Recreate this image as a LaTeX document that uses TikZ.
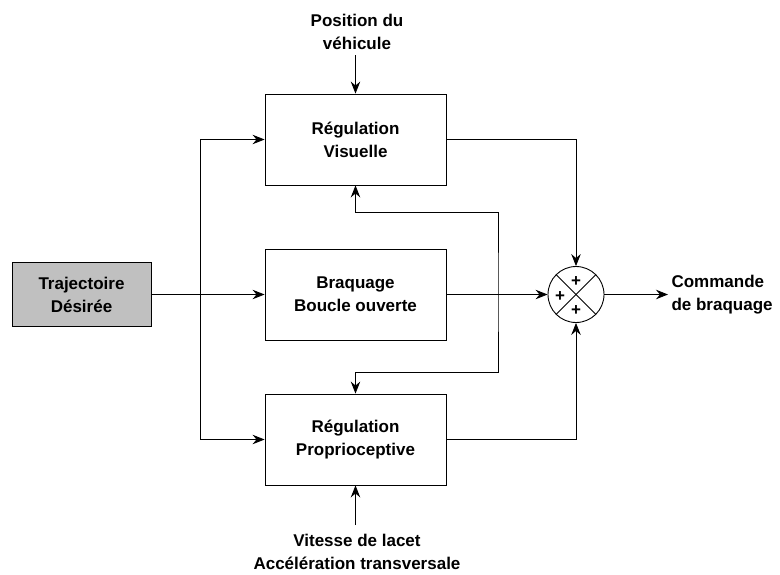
\documentclass[tikz,border=0pt]{standalone}
\usepackage{fontspec}
\setmainfont{Liberation Sans}
\usetikzlibrary{arrows.meta}
\begin{document}
\begin{tikzpicture}[x=1pt,y=-1pt,
  lbl/.style={font=\bfseries\fontsize{17}{23}\selectfont, align=center},
  blk/.style={draw, line width=0.9pt, minimum width=181pt, minimum height=91pt, inner sep=0pt, lbl},
  wire/.style={line width=0.8pt},
  tip/.tip={Stealth[length=12pt,width=9.5pt,inset=4pt]},
  arr/.style={wire, -tip},
  barr/.style={wire, tip-tip},
  plus/.style={font=\bfseries\fontsize{17}{17}\selectfont, inner sep=0pt}
]
\useasboundingbox (0,0) rectangle (780,574);
\node[draw, line width=0.9pt, fill={rgb,255:red,192;green,192;blue,192}, minimum width=139pt, minimum height=64pt, inner sep=0pt, lbl] (traj) at (81.5,294.5) {Trajectoire\\Désirée};
\node[blk] (vis) at (355.5,139.5) {Régulation\\Visuelle};
\node[blk] (bo) at (355.5,294.5) {Braquage\\Boucle ouverte};
\node[blk] (prop) at (355.5,439.5) {Régulation\\Proprioceptive};
\node[draw, circle, line width=0.9pt, minimum size=56pt, inner sep=0pt] (sum) at (576,294.5) {};
\draw[wire] (sum.45) -- (sum.225);
\draw[wire] (sum.135) -- (sum.315);
\node[plus] (p1) at (576,282) {+};
\node[plus] (p2) at (560,297) {+};
\node[plus] (p3) at (576,311) {+};
\node[lbl] (pos) at (357,32) {Position du\\véhicule};
\node[lbl] (vit) at (357,552) {Vitesse de lacet\\Accélération transversale};
\node[lbl, anchor=west, align=left] (cmd) at (668,295) {Commande\\de braquage};
\coordinate (split) at (200,294.5);
\coordinate (fbtop) at (355.5,212);
\coordinate (fbbot) at (355.5,372);
\coordinate (posin) at (355.5,55);
\coordinate (vitin) at (355.5,525);
% inputs
\draw[arr] (posin) -- (vis.north);
\draw[arr] (vitin) -- (prop.south);
\draw[arr] (traj.east) -- (bo.west);
\draw[arr] (split) |- (vis.west);
\draw[arr] (split) |- (prop.west);
% feedback loop
\draw[barr] (vis.south) -- (fbtop) -| (498,292) |- (fbbot) -- (prop.north);
% outputs
\draw[arr] (vis.east) -| (sum.north);
\draw[arr] (bo.east) -- (sum.west);
\draw[arr] (prop.east) -| (sum.south);
\draw[arr] (sum.east) -- (sum.east -| cmd.west);
\end{tikzpicture}
\end{document}
